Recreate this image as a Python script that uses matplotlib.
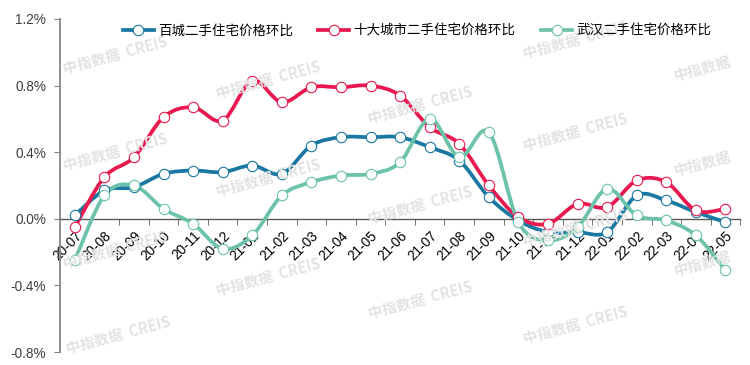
import matplotlib
matplotlib.use("Agg")
import matplotlib.pyplot as plt
import numpy as np
from matplotlib.path import Path
from matplotlib.patches import PathPatch
from matplotlib.lines import Line2D
from matplotlib.ticker import FuncFormatter

months = ["20-07", "20-08", "20-09", "20-10", "20-11", "20-12", "21-01", "21-02",
          "21-03", "21-04", "21-05", "21-06", "21-07", "21-08", "21-09", "21-10",
          "21-11", "21-12", "22-01", "22-02", "22-03", "22-04", "22-05"]
baicheng = [0.02, 0.17, 0.19, 0.27, 0.29, 0.28, 0.32, 0.27, 0.44, 0.49, 0.49, 0.49,
            0.43, 0.35, 0.13, -0.01, -0.08, -0.08, -0.08, 0.14, 0.11, 0.04, -0.02]
shida = [-0.05, 0.25, 0.37, 0.61, 0.67, 0.59, 0.83, 0.70, 0.79, 0.79, 0.80, 0.74,
         0.55, 0.45, 0.20, 0.01, -0.03, 0.09, 0.07, 0.23, 0.22, 0.05, 0.06]
wuhan = [-0.25, 0.14, 0.20, 0.06, -0.03, -0.18, -0.10, 0.14, 0.22, 0.26, 0.27, 0.34,
         0.60, 0.37, 0.52, -0.02, -0.13, -0.05, 0.18, 0.02, -0.01, -0.10, -0.31]
series_names = ["百城二手住宅价格环比", "十大城市二手住宅价格环比", "武汉二手住宅价格环比"]
yticks = [-0.8, -0.4, 0.0, 0.4, 0.8, 1.2]

colors = ["#1a78a2", "#e9194f", "#6cc2aa"]

plt.rcParams['font.family'] = ['Liberation Sans', 'Noto Sans CJK SC', 'DejaVu Sans']

fig = plt.figure(figsize=(7.5, 3.65), dpi=100)
ax = fig.add_axes([0.08, 0.0356, 0.907, 0.9124])

# watermarks
wm_full = [(115, 55), (115, 152), (115, 250), (118, 335),
           (268, 80), (268, 178), (268, 277),
           (420, 105), (420, 205), (420, 300),
           (575, 40), (575, 132), (575, 228), (575, 325)]
wm_short = [(702, 68), (702, 163), (702, 263)]
for (px, py) in wm_full:
    fig.text(px / 750, 1 - py / 365, "中指数据  CREIS", fontsize=10.5, fontweight='bold',
             color='#e3e3e3', rotation=15, ha='center', va='center',
             family=['Noto Sans CJK SC', 'DejaVu Sans'], zorder=0)
for (px, py) in wm_short:
    fig.text(px / 750, 1 - py / 365, "中指数据", fontsize=10.5, fontweight='bold',
             color='#e3e3e3', rotation=15, ha='center', va='center',
             family=['Noto Sans CJK SC', 'DejaVu Sans'], zorder=0)


def smooth_path(xs, ys):
    pts = np.column_stack([xs, ys]).astype(float)
    n = len(pts)
    verts = [pts[0]]
    codes = [Path.MOVETO]
    for i in range(n - 1):
        p0 = pts[i - 1] if i > 0 else pts[i]
        p1 = pts[i]
        p2 = pts[i + 1]
        p3 = pts[i + 2] if i + 2 < n else pts[i + 1]
        c1 = p1 + (p2 - p0) / 6.0
        c2 = p2 - (p3 - p1) / 6.0
        verts += [c1, c2, p2]
        codes += [Path.CURVE4] * 3
    return Path(verts, codes)


x = np.arange(len(months))
handles = []
for vals, col, name in zip([baicheng, shida, wuhan], colors, series_names):
    patch = PathPatch(smooth_path(x, vals), facecolor='none', edgecolor=col,
                      lw=2.7, capstyle='round', joinstyle='round', zorder=3)
    ax.add_patch(patch)
    ax.plot(x, vals, linestyle='none', marker='o', ms=7.5, mfc='white', mec=col,
            mew=0.8, zorder=4)
    handles.append(Line2D([], [], color=col, lw=2.7, marker='o', ms=7.5, mfc='white',
                          mec=col, mew=0.8))

ax.set_xlim(-0.5, len(months) - 0.5)
ax.set_ylim(-0.8, 1.2)
ax.set_yticks(yticks)
ax.yaxis.set_major_formatter(FuncFormatter(lambda v, p: f"{v:.1f}%"))

ax.spines['top'].set_visible(False)
ax.spines['right'].set_visible(False)
ax.spines['bottom'].set_position(('data', 0))
ax.spines['bottom'].set_color('#595959')
ax.spines['left'].set_color('#868686')
ax.spines['left'].set_linewidth(1.3)
ax.spines['bottom'].set_linewidth(1.0)
ax.patch.set_alpha(0)

ax.set_xticks(x)
ax.set_xticklabels(months, rotation=45, ha='right', va='top', rotation_mode='anchor')
ax.tick_params(axis='x', which='major', length=0, pad=7, labelsize=9.8, labelcolor='#000000')
ax.set_xticks(np.arange(-0.5, len(months) + 0.5, 1)[1:], minor=True)
ax.tick_params(axis='x', which='minor', length=4, direction='out', color='#595959')
ax.tick_params(axis='y', length=4, direction='out', color='#868686', pad=6,
               labelsize=9.8, labelcolor='#404040')

fig.legend(handles, series_names, loc='center', bbox_to_anchor=(0.556, 0.915), ncol=3,
           frameon=False, handlelength=2.3, handletextpad=0.3, columnspacing=1.9,
           prop={'family': ['Noto Sans CJK SC', 'DejaVu Sans'], 'size': 9.7})

fig.savefig("out.png", dpi=100)
